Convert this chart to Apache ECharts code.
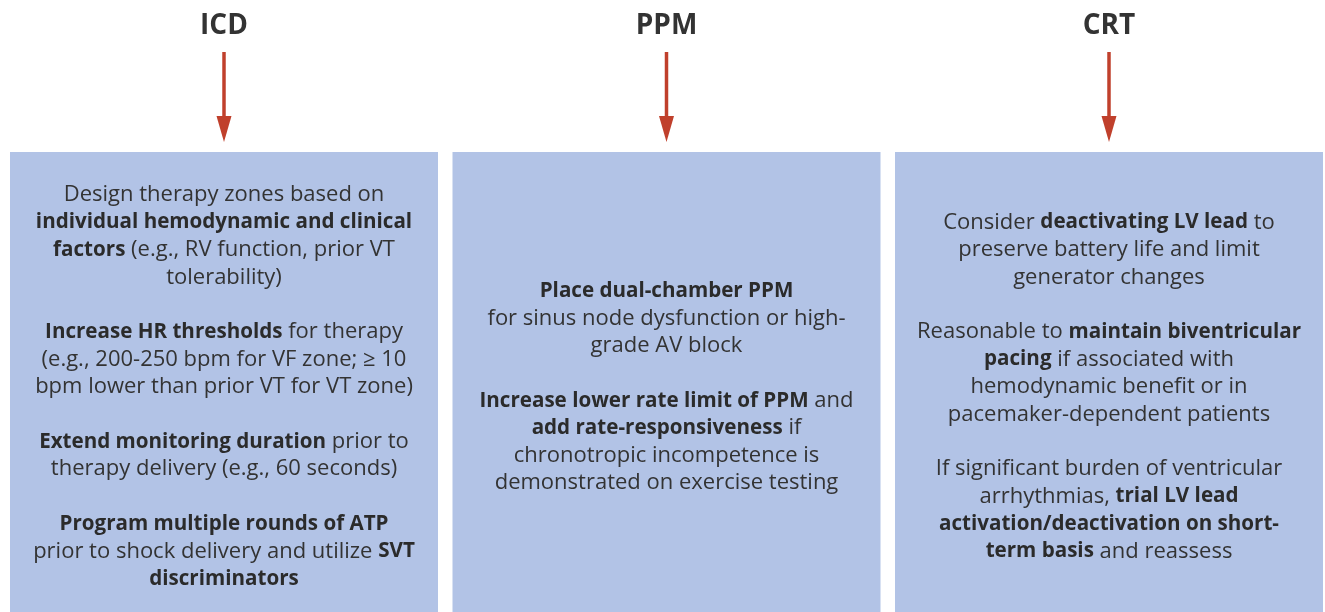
<!DOCTYPE html>
<html>
<head>
<meta charset="utf-8">
<title>ICD / PPM / CRT</title>
<script src="https://cdn.jsdelivr.net/npm/echarts@6/dist/echarts.min.js"></script>
<style>
    html, body { margin: 0; padding: 0; background: #fff; }
    #main { width: 1325px; height: 612px; }
</style>
</head>
<body>
<div id="main"></div>
<script>
// device columns
var devices = ['ICD', 'PPM', 'CRT'];

// text of each box, one string per printed line ({b|...} = bold)
var icdLines = [
    'Design therapy zones based on',
    '{b|individual hemodynamic and clinical}',
    '{b|factors} (e.g., RV function, prior VT',
    'tolerability)',
    '',
    '{b|Increase HR thresholds} for therapy',
    '(e.g., 200-250 bpm for VF zone; \u2265 10',
    'bpm lower than prior VT for VT zone)',
    '',
    '{b|Extend monitoring duration} prior to',
    'therapy delivery (e.g., 60 seconds)',
    '',
    '{b|Program multiple rounds of ATP}',
    'prior to shock delivery and utilize {b|SVT}',
    '{b|discriminators}'
];
var ppmLines = [
    '{b|Place dual-chamber PPM}',
    'for sinus node dysfunction or high-',
    'grade AV block',
    '',
    '{b|Increase lower rate limit of PPM} and',
    '{b|add rate-responsiveness} if',
    'chronotropic incompetence is',
    'demonstrated on exercise testing'
];
var crtLines = [
    'Consider {b|deactivating LV lead} to',
    'preserve battery life and limit',
    'generator changes',
    '',
    'Reasonable to {b|maintain biventricular}',
    '{b|pacing} if associated with',
    'hemodynamic benefit or in',
    'pacemaker-dependent patients',
    '',
    'If significant burden of ventricular',
    'arrhythmias, {b|trial LV lead}',
    '{b|activation/deactivation on short-}',
    '{b|term basis} and reassess'
];
var boxText = [icdLines, ppmLines, crtLines];

// vertical levels (px from top, on the hidden inverse y axis)
var titleY = 26;
var arrowTop = 52;
var arrowTip = 142;
var boxTop = 152;
var boxBottom = 620;
var textMid = 387;

var font = '"Open Sans", "Noto Sans", sans-serif';
var myChart = echarts.init(document.getElementById('main'));

var option = {
    animation: false,
    grid: { left: 2.75, top: 0, width: 1327.5, height: 612, outerBoundsMode: 'none' },
    xAxis: { type: 'category', data: devices, show: false },
    yAxis: { type: 'value', min: 0, max: 612, inverse: true, show: false },
    series: [{
        type: 'custom',
        data: devices.map(function(d, i) { return [i, boxTop]; }),
        renderItem: function(params, api) {
            var i = api.value(0);
            var band = api.size([1, 0])[0];
            var top = api.coord([i, boxTop]);
            var bottom = api.coord([i, boxBottom]);
            var cx = top[0];
            var w = band - 14.5;
            var yTitle = api.coord([i, titleY])[1];
            var yA0 = api.coord([i, arrowTop])[1];
            var yA1 = api.coord([i, arrowTip])[1];
            var yMid = api.coord([i, textMid])[1];
            return {
                type: 'group',
                children: [
                    {
                        type: 'rect',
                        shape: { x: cx - w / 2, y: top[1], width: w, height: bottom[1] - top[1] },
                        style: { fill: '#b2c3e6' }
                    },
                    {
                        type: 'text',
                        x: cx, y: yTitle,
                        style: {
                            text: devices[i],
                            fontFamily: font, fontSize: 28, fontWeight: 'bold',
                            fill: '#333', align: 'center', verticalAlign: 'middle'
                        }
                    },
                    {
                        type: 'line',
                        shape: { x1: cx, y1: yA0, x2: cx, y2: yA1 - 20 },
                        style: { stroke: '#c0402c', lineWidth: 3.5 }
                    },
                    {
                        type: 'polygon',
                        shape: { points: [[cx - 7.5, yA1 - 26], [cx + 7.5, yA1 - 26], [cx, yA1]] },
                        style: { fill: '#c0402c' }
                    },
                    {
                        type: 'text',
                        x: cx, y: yMid,
                        style: {
                            text: boxText[i].join('\n'),
                            fontFamily: font, fontSize: 22, lineHeight: 27.4,
                            fill: '#333', align: 'center', verticalAlign: 'middle',
                            rich: {
                                b: { fontFamily: font, fontSize: 20.6, lineHeight: 27.4, fontWeight: 'bold', fill: '#2b2b2b' }
                            }
                        }
                    }
                ]
            };
        }
    }]
};

myChart.setOption(option);
</script>
</body>
</html>
